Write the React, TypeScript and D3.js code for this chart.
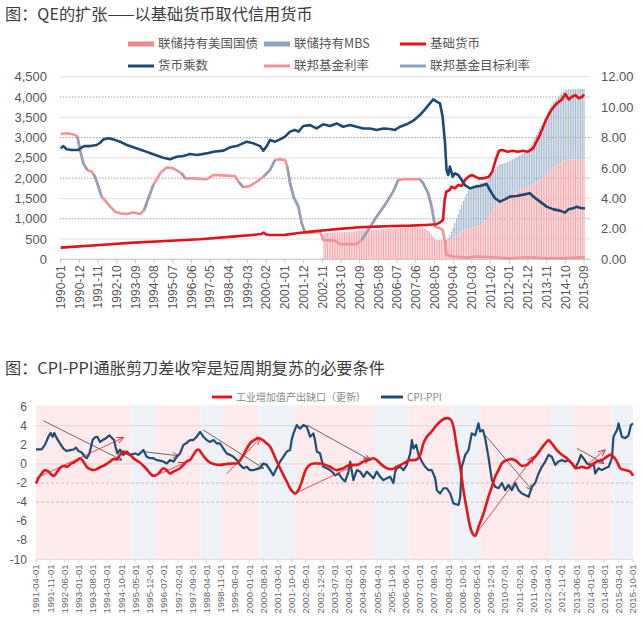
import React from 'react';
import * as d3 from 'd3';

// ================= Chart 1: QE =================
const topTitle = '图：QE的扩张——以基础货币取代信用货币';
const topTickLabels = ['1990-01','1990-12','1991-11','1992-10','1993-09','1994-08','1995-07','1996-06','1997-05','1998-04','1999-03','2000-02','2001-01','2001-12','2002-11','2003-10','2004-09','2005-08','2006-07','2007-06','2008-05','2009-04','2010-03','2011-02','2012-01','2012-12','2013-11','2014-10','2015-09'];
const leftTicks = [0, 500, 1000, 1500, 2000, 2500, 3000, 3500, 4000, 4500];
const rightTicks = [0, 2, 4, 6, 8, 10, 12];

// months since 1990-01
const treasuryStart = 155; // 2002-12
const treasury = [
  640,
  645, 648, 650, 652, 655, 658, 660, 662, 665, 667, 670, 672,
  675, 678, 682, 686, 690, 694, 698, 702, 706, 710, 713, 716,
  718, 720, 722, 725, 728, 731, 734, 737, 740, 743, 746, 749,
  752, 755, 758, 760, 762, 764, 766, 768, 770, 772, 774, 776,
  778, 780, 782, 784, 786, 788, 790, 790, 780, 770, 760, 740,
  710, 680, 620, 560, 500, 480, 479, 479, 477, 476, 476, 476,
  475, 475, 480, 500, 540, 580, 620, 660, 690, 720, 740, 760,
  770, 775, 780, 790, 800, 810, 830, 850, 880, 910, 950, 1000,
  1060, 1120, 1190, 1260, 1330, 1400, 1450, 1480, 1500, 1520, 1540, 1560,
  1580, 1600, 1620, 1640, 1660, 1680, 1700, 1720, 1740, 1750, 1760, 1770,
  1790, 1810, 1840, 1870, 1900, 1930, 1960, 1990, 2020, 2060, 2100, 2150,
  2190, 2230, 2260, 2290, 2320, 2350, 2380, 2410, 2430, 2450, 2460, 2460,
  2460, 2460, 2460, 2460, 2460, 2460, 2460, 2460, 2460,
];
const mbsStart = 228; // 2009-01
const mbs = [
  50, 120, 200, 280, 360, 430, 500, 580, 650, 720, 790, 860,
  920, 970, 1000, 1020, 1030, 1040, 1040, 1030, 1010, 990, 970, 950,
  940, 930, 920, 910, 900, 890, 880, 870, 860, 850, 840, 840,
  840, 840, 840, 840, 845, 850, 850, 855, 860, 880, 910, 940,
  980, 1020, 1070, 1120, 1170, 1220, 1270, 1310, 1350, 1400, 1440, 1490,
  1530, 1570, 1600, 1620, 1640, 1660, 1680, 1700, 1710, 1720, 1720, 1730,
  1730, 1735, 1740, 1740, 1740, 1740, 1740, 1740, 1740,
];
const baseMoney: [number, number][] = [
  [0,287],[23,353],[43,410],[62,452],[82,493],[101,558],[113,600],[118,622],[119.5,657],[121,612],[123,600],[132,602],[140,650],[147,681],[157,722],[166,755],[176,788],[186,805],[196,821],[206,829],[215,846],[221,862],[223,903],[225,969],[226,1461],[227,1667],[229,1708],[230,1790],[232,1749],[234,1831],[236,1806],[238,1954],[240,2036],[242,2077],[244,2036],[246,1995],[249,1995],[252,2036],[254,2159],[256,2447],[258,2676],[260,2693],[263,2652],[266,2676],[269,2652],[272,2676],[275,2652],[278,2734],[282,3062],[286,3473],[289,3694],[292,3842],[295,3941],[297,4072],[299,3941],[301,4006],[303,4047],[305,3965],[307,4006],[308,4060],
];
const multiplier: [number, number][] = [
  [0,7.29],[1.6,7.44],[3.5,7.23],[6.5,7.18],[10.4,7.18],[12.4,7.36],[14.3,7.44],[17.3,7.44],[21.2,7.51],[23.2,7.66],[25.1,7.88],[28.1,7.95],[31,7.88],[34.9,7.73],[38.9,7.51],[42.8,7.36],[48.7,7.14],[54.5,6.9],[60.4,6.68],[64.4,6.57],[68.3,6.74],[72.2,6.79],[76.1,6.92],[80.1,6.85],[85.9,6.96],[89.9,7.07],[95.8,7.14],[99.7,7.36],[103.6,7.44],[109.5,7.73],[113.4,7.62],[117.3,7.44],[119.3,7.14],[121.3,7.44],[123.2,7.84],[126.2,7.73],[129.1,7.88],[132,8.06],[135,8.39],[137.9,8.5],[139.9,8.39],[142.8,8.76],[146.8,8.82],[150.6,8.6],[154.5,8.87],[158.5,8.76],[162.4,8.93],[166.3,8.71],[170.2,8.82],[174.2,8.71],[178.1,8.6],[182,8.6],[185.9,8.5],[189.9,8.6],[193.8,8.56],[196.7,8.5],[199.7,8.71],[203.6,8.87],[207.5,9.11],[211.4,9.48],[214.4,9.85],[217.3,10.25],[219.3,10.51],[221.3,10.36],[223.2,10.25],[224.8,9.37],[226.2,7.62],[227.1,5.87],[228.1,5.54],[229.1,6.09],[230.7,5.43],[232,5.65],[234,5.54],[236,5.21],[237.9,4.88],[240.9,4.66],[243.8,4.77],[246.8,4.82],[250.7,4.95],[252.6,4.55],[255.6,4.01],[258.5,3.79],[261.5,3.94],[264.4,4.12],[268.3,4.16],[272.3,4.25],[276.2,4.34],[278.2,4.12],[282.1,3.79],[286,3.46],[290,3.28],[293.9,3.2],[296.8,3.07],[298.8,3.28],[301.7,3.35],[303.7,3.46],[306.6,3.35],[308.6,3.35],
];
const fedFunds: [number, number][] = [
  [0,8.23],[3.5,8.28],[6.5,8.23],[8.4,8.17],[9.8,8.06],[11.4,7.18],[13.3,6.31],[15.7,5.87],[18.3,5.76],[20.2,5.43],[22.2,4.77],[24.1,4.12],[26.7,3.79],[29.1,3.46],[32,3.13],[34.9,3.02],[38.9,2.98],[42.8,3.07],[46.7,2.98],[49.1,3.24],[51.6,4.01],[54.5,4.88],[58.5,5.65],[62.4,6.04],[66.3,5.98],[71.2,5.65],[73.2,5.32],[78.1,5.32],[85.9,5.26],[89.9,5.54],[97.7,5.5],[102.6,5.47],[104.6,5.1],[107.5,4.73],[111.4,4.82],[115.4,5.1],[119.3,5.43],[123.2,5.87],[126.2,6.53],[129.1,6.57],[132,6.53],[133.4,6.09],[135,4.99],[137,4.12],[139.9,3.46],[141.9,2.36],[143.8,1.75],[147.7,1.75],[152.6,1.82],[154.6,1.27],[161.4,1.23],[164.4,1.0],[174.2,1.0],[177.1,1.27],[181,1.93],[185.9,2.8],[190.8,3.57],[195.7,4.45],[198.7,5.21],[201.6,5.26],[211.4,5.26],[213.4,4.99],[216.3,4.34],[218.3,3.46],[220.3,2.15],[223.2,2.04],[224.8,1.93],[226.2,1.16],[227.1,0.28],[231.1,0.18],[238.9,0.11],[244.8,0.18],[254.6,0.13],[264.4,0.07],[274.2,0.13],[284,0.09],[295.8,0.07],[303.7,0.11],[308.6,0.13],
];
// visible (un-covered) stretches of the target rate; NaN separates stretches
const targetRate: [number, number][] = [
  [9.8,8.06],[11.4,7.18],[13.3,6.31],[15.7,5.87],[16,NaN],
  [19.2,5.6],[20.2,5.43],[22.2,4.77],[24.1,4.12],[25,NaN],
  [49.1,3.24],[51.6,4.01],[54.5,4.88],[55,NaN],
  [71.2,5.65],[73.2,5.32],[74,NaN],
  [104.6,5.1],[107.5,4.73],[108,NaN],
  [119.3,5.43],[123.2,5.87],[126.2,6.53],[127,NaN],
  [133.4,6.09],[135,4.99],[137,4.12],[139.9,3.46],[141.9,2.36],[143.8,1.75],[144,NaN],
  [177.1,1.27],[181,1.93],[185.9,2.8],[190.8,3.57],[195.7,4.45],[198.7,5.21],[199,NaN],
  [211.4,5.26],[213.4,4.99],[216.3,4.34],[218.3,3.46],[220.3,2.15],
];
const topLegend = ['联储持有美国国债', '联储持有MBS', '基础货币', '货币乘数', '联邦基金利率', '联邦基金目标利率'];

// ================= Chart 2: CPI-PPI =================
const botTitle = '图：CPI-PPI通胀剪刀差收窄是短周期复苏的必要条件';
const botLegend = ['工业增加值产出缺口（更新）', 'CPI-PPI'];
const botTickLabels = ['1991-04-01','1991-11-01','1992-06-01','1993-01-01','1993-08-01','1994-03-01','1994-10-01','1995-05-01','1995-12-01','1996-07-01','1997-02-01','1997-09-01','1998-04-01','1998-11-01','1999-06-01','2000-01-01','2000-08-01','2001-03-01','2001-10-01','2002-05-01','2002-12-01','2003-07-01','2004-02-01','2004-09-01','2005-04-01','2005-11-01','2006-06-01','2007-01-01','2007-08-01','2008-03-01','2008-10-01','2009-05-01','2009-12-01','2010-07-01','2011-02-01','2011-09-01','2012-04-01','2012-11-01','2013-06-01','2014-01-01','2014-08-01','2015-03-01','2015-10-01'];
const botYTicks = [-10, -8, -6, -4, -2, 0, 2, 4, 6];
const botGrid = [4, 0, -2, -4];
// months since 1991-04
const bandEdges = [0, 47, 59, 81, 92, 110, 128, 166, 184, 204, 219, 254, 265, 284, 294];
const bandKinds = ['up', 'down', 'up', 'down', 'up', 'down', 'up', 'down', 'up', 'down', 'up', 'down', 'up', 'down'];
const outputGap: [number, number][] = [
  [0,-2.05],[1.2,-1.5],[2.8,-1.0],[4.4,-0.65],[6.1,-0.8],[7.7,-1.15],[8.9,-1.25],[10.5,-0.8],[12.2,-0.35],[13.8,-0.2],[15.4,-0.3],[17.1,0.0],[18.7,0.15],[20.4,0.4],[21.7,0.6],[23.3,0.25],[25,-0.3],[26.6,-0.55],[28.2,-0.65],[29.9,-0.55],[31.5,-0.35],[33.2,-0.2],[34.8,0.0],[36.5,0.25],[38.1,0.5],[39.7,0.5],[41.4,0.95],[43,1.3],[44.7,1.1],[46.3,0.95],[48,0.6],[49.6,0.35],[51.2,0.15],[52.9,-0.2],[54.5,-0.55],[56.2,-1.0],[57.8,-1.25],[59.5,-1.15],[61.1,-0.8],[62.7,-0.45],[64.4,-0.65],[66,-1.0],[67.7,-0.8],[69.3,-0.65],[70.9,-0.45],[72.6,-0.1],[74.2,0.25],[75.9,0.4],[77.5,0.95],[79.2,1.45],[80,1.5],[81.6,1.1],[83.3,0.6],[84.9,0.25],[87.4,0.0],[90.6,-0.1],[94,0.0],[97.2,0.05],[98.9,0.05],[100.5,0.4],[102.2,0.95],[103.8,1.6],[105.4,2.15],[107.9,2.55],[109.5,2.7],[112,2.45],[113.6,2.15],[115.3,1.8],[116.9,1.1],[118.6,0.25],[120.2,-0.45],[121.8,-1.15],[123.5,-1.85],[125.1,-2.55],[126.8,-3.0],[127.6,-3.1],[129.2,-2.75],[130.9,-1.85],[132.5,-0.8],[134.2,-0.2],[136.6,0.05],[139.9,0.05],[142.4,-0.1],[144.8,-0.3],
  [148.1,-0.65],[151.4,-0.45],[154.7,-0.1],[158,-0.1],[161.3,0.25],[163.7,0.4],[166.2,0.6],[167.8,0.4],[170.3,-0.1],[172.8,-0.45],[175.2,-0.55],[177.7,-0.3],[181,0.05],[184.3,0.4],[186.7,0.4],[189.2,0.95],[190.8,2.15],[192.5,2.85],[194.9,3.4],[197.4,4.1],[199.9,4.6],[202.3,4.8],[204,4.7],[205.6,3.9],[207.2,1.8],[208.9,-0.3],[210.5,-2.75],[212.2,-4.85],[213.8,-6.6],[215.5,-7.45],[216.3,-7.55],[217.9,-6.6],[220.4,-5.2],[222.8,-3.45],[224.5,-2.4],[226.1,-1.35],[227.8,-0.65],[229.4,0.05],[231.9,0.4],[234.3,0.5],[236.8,0.25],[239.3,-0.2],[241.7,-0.1],[243.4,0.25],[245.8,0.75],[248.3,1.45],[250.8,2.15],[252.4,2.5],[254,2.15],[256.5,1.45],[259,0.95],[261.4,0.6],[263.9,0.05],[266.4,-0.45],[268.8,-0.3],[271.3,-0.45],[273.8,-0.1],[276.2,0.25],[278.7,0.4],[281.1,0.75],[282.8,0.95],[284.4,0.75],[286.1,0.25],[287.7,-0.45],[290.2,-0.65],[292.6,-0.8],[294,-1.25],
];
const cpiPpi: [number, number][] = [
  [0,1.52],[2.8,1.52],[4.4,2.0],[6.1,2.85],[7.2,3.25],[8.2,2.85],[9.0,3.25],[10.2,2.7],[11.8,2.15],[13.5,1.6],[15.1,1.35],[16.7,1.45],[18.4,1.5],[19.7,1.7],[20.9,1.35],[22.5,1.2],[24.1,0.75],[25,0.6],[26.3,1.1],[27.9,2.5],[29.1,2.8],[30.2,2.85],[31.5,2.3],[32.8,2.5],[34.5,2.7],[36.1,3.0],[37.3,2.75],[38.4,2.5],[39.4,1.6],[40.1,1.1],[41.4,1.5],[43,0.95],[44.7,1.3],[46.3,0.95],[48.8,1.1],[50.4,0.95],[52.9,1.45],[54.5,0.75],[56.2,0.6],[57.8,0.6],[59.5,0.4],[61.1,0.35],[62.7,0.25],[64.4,0.05],[66,0.4],[67.7,0.25],[69.3,0.75],[70.9,1.1],[72.6,2.0],[74.2,2.2],[75.8,2.5],[77.5,2.5],[79.1,2.85],[80.8,3.35],[82.4,2.85],[84.1,2.5],[85.7,2.3],[87.4,2.5],[89,2.15],[90.6,2.15],[92.3,1.6],[93.9,1.1],[95.6,0.95],[97.2,0.75],[98.9,0.4],[100.5,-0.1],[102.2,-0.45],[103.8,-0.3],[105.4,-0.65],[107.1,-0.65],[108.7,-0.55],[110.3,-0.45],[112,0.05],[113.6,-0.1],[115.3,-0.65],[116.9,-1.2],[118.5,-0.45],[120.2,0.25],[121.8,0.75],[123.5,1.3],[125.1,1.45],[125.9,2.5],[126.8,3.2],[128.4,4.07],[130,3.7],[131.7,4.07],[133.3,3.9],[135,2.85],[136.6,3.2],[137.4,2.5],[138.3,1.3],[139.9,1.1],[141.5,-0.3],[143.2,-0.45],[144.8,-0.65],
  [145.7,-0.8],[147.3,-1.2],[149,-1.0],[150.6,-1.5],[152.2,-1.85],[153.9,-0.8],[154.7,0.25],[156.3,-1.7],[158,-0.65],[159.6,-0.8],[161.3,-1.35],[162.9,-0.8],[164.6,-1.15],[166.2,-1.5],[167.8,-0.8],[169.5,-1.35],[171.1,-1.7],[172.8,-1.5],[174.4,-1.35],[176,-2.0],[176.9,-0.8],[177.7,-0.45],[179.3,-0.3],[181,-0.65],[182.6,-0.1],[184.3,1.1],[185.1,2.5],[185.9,1.6],[187.2,2.0],[188.4,0.95],[190,0.25],[191.6,-0.3],[193.3,-0.65],[194.9,-0.65],[196.6,-1.5],[197.4,-2.75],[199,-3.1],[200.7,-2.55],[202.3,-2.55],[204,-3.1],[205.6,-4.15],[208.1,-4.3],[208.9,-3.45],[209.7,-0.3],[211.4,0.95],[213,1.45],[214.6,3.2],[216.3,3.0],[217.9,4.25],[218.7,3.4],[220.1,3.55],[221.2,2.7],[222.8,0.75],[224.5,-1.7],[226.1,-2.4],[227.8,-2.55],[229.4,-2.0],[231.1,-2.75],[232.7,-2.2],[234.3,-2.75],[236,-2.0],[237.6,-2.75],[239.3,-3.1],[240.9,-3.25],[242.6,-3.45],[244.2,-2.4],[245.8,-2.0],[247.5,-1.0],[249.1,-0.3],[250.8,0.25],[252.4,0.95],[254,0.75],[255.7,-0.1],[257.3,0.25],[259,0.4],[260.6,0.25],[262.3,0.4],[263.9,0.05],[265.5,-0.45],[267.2,0.25],[268.3,0.95],[269.6,0.6],[271.3,0.05],[272.9,-0.1],[274.6,0.05],[275.4,-1.0],[277,-0.45],[278.7,-0.65],[280.3,-0.45],[282,-0.3],[283.6,0.6],[284.4,2.85],[286.1,3.55],[286.9,4.25],[288.5,2.85],[290.2,2.7],[291.8,3.0],[293,4.07],[294,4.25],
];
// trend arrows: [m1, v1, m2, v2]
const downArrows: [number, number, number, number][] = [
  [3.6, 4.53, 42.2, 0.41],
  [52.9, 1.28, 70.1, 0.86],
  [82.4, 3.56, 112, -0.46],
  [133.4, 4.08, 164.5, 0.41],
  [221.2, 3.03, 244.2, -2.73],
  [266.4, 1.64, 279.5, 0.07],
];
const upArrows: [number, number, number, number][] = [
  [0, -1.5, 43, 2.75],
  [58.6, -1.26, 73.4, 0.13],
  [93.9, -1.05, 110.3, 2.69],
  [127.6, -3.08, 164.5, 0.59],
  [216.3, -7.45, 245, 0.76],
  [271.3, -0.11, 280.3, 1.46],
];

const NUM = "'Liberation Sans', Arial, sans-serif";
const CJK = "'Noto Sans CJK SC', 'Noto Sans', sans-serif";

const C = {
  treasury: '#f5aaae',
  treasuryLeg: '#ef8a90',
  mbs: '#a7bbcf',
  mbsLeg: '#8ea5be',
  base: '#e4111b',
  mult: '#1c4a72',
  ff: '#f19299',
  target: '#8aa3bb',
  gap: '#e3161d',
  cpi: '#1f4d73',
};

export default function App() {
  // ----- top scales -----
  const xT = d3.scaleLinear().domain([0, 308]).range([60.7, 584]);
  const yL = d3.scaleLinear().domain([0, 4500]).range([259.3, 76.7]);
  const yR = d3.scaleLinear().domain([0, 12]).range([259.3, 76.7]);
  const monthTop = (s: string) => (+s.slice(0, 4) - 1990) * 12 + (+s.slice(5, 7) - 1);
  const lineL = d3.line<[number, number]>().x(d => xT(d[0])).y(d => yL(d[1]));
  const lineR = d3.line<[number, number]>().x(d => xT(d[0])).y(d => yR(d[1]));
  const lineRDef = d3.line<[number, number]>().defined(d => !isNaN(d[1])).x(d => xT(d[0])).y(d => yR(d[1]));
  const bw = 1.15;

  // ----- bottom scales -----
  const xB = d3.scaleLinear().domain([0, 294]).range([36, 633]);
  const yB = d3.scaleLinear().domain([-10, 6]).range([559.3, 406.7]);
  const monthBot = (s: string) => (+s.slice(0, 4) - 1991) * 12 + (+s.slice(5, 7) - 4);
  const lineB = d3.line<[number, number]>().x(d => xB(d[0])).y(d => yB(d[1]));
  const lineBSmooth = d3.line<[number, number]>().x(d => xB(d[0])).y(d => yB(d[1])).curve(d3.curveMonotoneX);

  const legTop = [
    { x: 128, y: 44, color: C.treasuryLeg, w: 5, label: topLegend[0] },
    { x: 264, y: 44, color: C.mbsLeg, w: 5, label: topLegend[1] },
    { x: 400, y: 44, color: C.base, w: 3, label: topLegend[2] },
    { x: 128, y: 66, color: C.mult, w: 3, label: topLegend[3] },
    { x: 264, y: 66, color: C.ff, w: 3, label: topLegend[4] },
    { x: 400, y: 66, color: C.target, w: 3, label: topLegend[5] },
  ];

  return (
    <svg width={643} height={624} viewBox="0 0 643 624"
      style={{ position: 'absolute', left: 0, top: 0, display: 'block', background: '#fff' }}>
      <defs>
        <marker id="arrR" viewBox="0 0 8 8" refX="7.5" refY="4" markerWidth="7" markerHeight="7"
          markerUnits="userSpaceOnUse" orient="auto">
          <path d="M0,0.5 L8,4 L0,7.5" fill="none" stroke="#e0262b" strokeWidth="1" />
        </marker>
        <marker id="arrD" viewBox="0 0 8 8" refX="7.5" refY="4" markerWidth="6" markerHeight="6"
          markerUnits="userSpaceOnUse" orient="auto">
          <path d="M0,0.5 L8,4 L0,7.5" fill="none" stroke="#444" strokeWidth="1" />
        </marker>
      </defs>

      {/* ================= TOP CHART ================= */}
      <text x={5} y={20} fontFamily={CJK} fontSize={16.2} fill="#3c3c3c">{topTitle}</text>
      {legTop.map((l, i) => (
        <g key={i}>
          <line x1={l.x} x2={l.x + 26} y1={l.y} y2={l.y} stroke={l.color} strokeWidth={l.w} />
          <text x={l.x + 30} y={l.y} dy="0.35em" fontFamily={CJK} fontSize={12.5} fill="#555">{l.label}</text>
        </g>
      ))}
      {leftTicks.map(v => (
        <line key={'g' + v} x1={60} x2={590} y1={yL(v)} y2={yL(v)}
          stroke={v % 1000 === 0 && v > 0 ? '#8a8a8a' : '#d9d9d9'}
          strokeWidth={0.8}
          strokeDasharray={v % 1000 === 0 && v > 0 ? '1.5,1.5' : undefined} />
      ))}
      {leftTicks.map(v => (
        <text key={'l' + v} x={47} y={yL(v)} dy="0.35em" textAnchor="end" fontFamily={NUM} fontSize={13} fill="#555">
          {d3.format(',')(v)}
        </text>
      ))}
      {rightTicks.map(v => (
        <text key={'r' + v} x={601} y={yR(v)} dy="0.35em" textAnchor="start" fontFamily={NUM} fontSize={13} fill="#555">
          {d3.format('.2f')(v)}
        </text>
      ))}
      {/* bars */}
      {treasury.map((v, i) => (
        <rect key={'t' + i} x={xT(treasuryStart + i) - bw / 2} width={bw} y={yL(v)} height={yL(0) - yL(v)} fill={C.treasury} />
      ))}
      {mbs.map((v, i) => {
        const t = treasury[mbsStart - treasuryStart + i];
        return <rect key={'m' + i} x={xT(mbsStart + i) - bw / 2} width={bw} y={yL(t + v)} height={yL(t) - yL(t + v)} fill={C.mbs} />;
      })}
      {/* x axis */}
      <line x1={60} x2={590} y1={yL(0)} y2={yL(0)} stroke="#bdbdbd" strokeWidth={0.8} />
      {topTickLabels.map(s => {
        const x = xT(monthTop(s));
        return (
          <g key={s}>
            <line x1={x} x2={x} y1={yL(0)} y2={yL(0) + 4} stroke="#bdbdbd" strokeWidth={0.8} />
            <text transform={`translate(${x},${yL(0) + 6}) rotate(-90)`} dy="0.35em" textAnchor="end"
              fontFamily={NUM} fontSize={12} fill="#555">{s}</text>
          </g>
        );
      })}
      {/* lines */}
      <path d={lineR(fedFunds) || ''} fill="none" stroke={C.ff} strokeWidth={2.6} strokeLinejoin="round" />
      <path d={lineRDef(targetRate) || ''} fill="none" stroke={C.target} strokeWidth={2.4} strokeLinejoin="round" />
      <path d={lineL(baseMoney) || ''} fill="none" stroke={C.base} strokeWidth={2.6} strokeLinejoin="round" />
      <path d={lineR(multiplier) || ''} fill="none" stroke={C.mult} strokeWidth={2.6} strokeLinejoin="round" />

      {/* ================= BOTTOM CHART ================= */}
      <text x={5} y={374} fontFamily={CJK} fontSize={16.2} fill="#3c3c3c">{botTitle}</text>
      <line x1={212} x2={232} y1={397} y2={397} stroke={C.gap} strokeWidth={3} />
      <text x={236} y={397} dy="0.35em" fontFamily={CJK} fontSize={10} fill="#888">{botLegend[0]}</text>
      <line x1={381} x2={403} y1={397} y2={397} stroke={C.cpi} strokeWidth={3} />
      <text x={407} y={397} dy="0.35em" fontFamily={CJK} fontSize={10} fill="#888">{botLegend[1]}</text>

      {bandKinds.map((k, i) => (
        <rect key={'b' + i} x={xB(bandEdges[i])} width={xB(bandEdges[i + 1]) - xB(bandEdges[i])}
          y={yB(6) - 1.5} height={yB(-10) - yB(6) + 1.5}
          fill={k === 'up' ? '#fdeaec' : '#eef1f5'} />
      ))}
      {botGrid.map(v => (
        <line key={'bg' + v} x1={36} x2={633} y1={yB(v)} y2={yB(v)}
          stroke={v < 0 ? '#b9b9b9' : '#d4d4d4'} strokeWidth={0.8}
          strokeDasharray={v < 0 ? '3,2' : undefined} />
      ))}
      <line x1={36} x2={633} y1={yB(-10)} y2={yB(-10)} stroke="#cfcfcf" strokeWidth={0.8} />
      {botYTicks.map(v => (
        <text key={'by' + v} x={27} y={yB(v)} dy="0.35em" textAnchor="end" fontFamily={NUM} fontSize={12} fill="#555">{v}</text>
      ))}
      {botTickLabels.map(s => {
        const x = xB(monthBot(s));
        return (
          <g key={s}>
            <line x1={x} x2={x} y1={yB(-10)} y2={yB(-10) + 3} stroke="#cfcfcf" strokeWidth={0.8} />
            <text transform={`translate(${x},${yB(-10) + 5}) rotate(-90)`} dy="0.35em" textAnchor="end"
              fontFamily={NUM} fontSize={9.6} fill="#666">{s}</text>
          </g>
        );
      })}
      <path d={lineB(cpiPpi) || ''} fill="none" stroke={C.cpi} strokeWidth={2.2} strokeLinejoin="round" />
      <path d={lineBSmooth(outputGap) || ''} fill="none" stroke={C.gap} strokeWidth={2.6} strokeLinejoin="round" />
      {downArrows.map((a, i) => (
        <line key={'da' + i} x1={xB(a[0])} y1={yB(a[1])} x2={xB(a[2])} y2={yB(a[3])}
          stroke="#444" strokeWidth={0.8} markerEnd="url(#arrD)" />
      ))}
      {upArrows.map((a, i) => (
        <line key={'ua' + i} x1={xB(a[0])} y1={yB(a[1])} x2={xB(a[2])} y2={yB(a[3])}
          stroke="#e0262b" strokeWidth={0.8} markerEnd="url(#arrR)" />
      ))}
    </svg>
  );
}
